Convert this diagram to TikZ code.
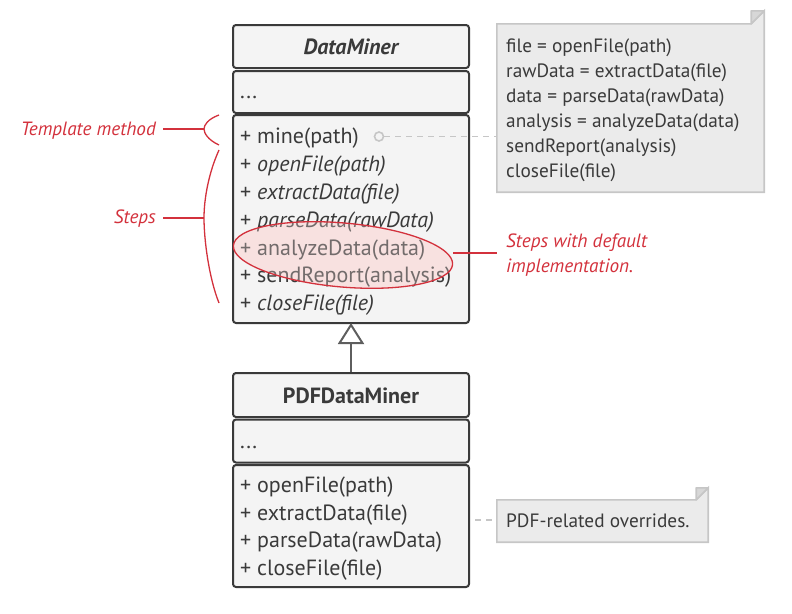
\documentclass[tikz,border=0pt]{standalone}
\usepackage{fontspec}
\setmainfont{PT Sans}
\usetikzlibrary{arrows.meta}
\definecolor{ink}{HTML}{3A3A3A}
\definecolor{arrowgray}{HTML}{5E5E5E}
\definecolor{boxfill}{HTML}{F4F4F4}
\definecolor{notefill}{HTML}{EBEBEB}
\definecolor{noteline}{HTML}{C6C6C6}
\definecolor{accent}{HTML}{D3313C}
\definecolor{blush}{HTML}{F8E1E0}
\tikzset{
  cls/.style={draw=ink, line width=2pt, fill=boxfill, rounded corners=3pt,
    minimum width=236pt, inner sep=0pt},
  mtext/.style={anchor=base west, inner sep=0pt, text=ink, font=\fontsize{22}{26}\selectfont},
  ntext/.style={anchor=base west, inner sep=0pt, text=ink, font=\fontsize{19.3}{23}\selectfont},
  rtext/.style={inner sep=0pt, text=accent, font=\fontsize{19.2}{25}\selectfont\itshape},
  redline/.style={draw=accent, line width=1.3pt},
  dashlink/.style={draw=noteline, line width=1.6pt, dash pattern=on 6pt off 5pt},
  hlshape/.style={rotate=-5},
}
\begin{document}
\begin{tikzpicture}[x=1pt, y=-1pt]
\useasboundingbox (0,0) rectangle (792,613);

% ---- DataMiner class ----
\node[cls, minimum height=43pt] (dmhead) at (351,46.5) {};
\node[cls, minimum height=42pt] (dmattr) at (351,92) {};
\node[cls, minimum height=208pt] (dmmeth) at (351,219) {};

% highlight behind the default steps
\coordinate (hl) at (343,255);
\fill[blush] (hl) ellipse [x radius=110pt, y radius=32pt, hlshape];

\node[anchor=base, inner sep=0pt, text=ink, font=\fontsize{22}{26}\selectfont\bfseries\itshape] (dmname) at (351,54) {DataMiner};
\node[mtext] (dmdots) at (240,98) {...};
\node[mtext] (m1) at (240,143) {+ mine(path)};
\node[mtext] (m2) at (240,171) {+ \textit{openFile(path)}};
\node[mtext] (m3) at (240,199) {+ \textit{extractData(file)}};
\node[mtext] (m4) at (240,227) {+ \textit{parseData(rawData)}};
\node[mtext] (m5) at (240,255) {+ analyzeData(data)};
\node[mtext] (m6) at (240,282.5) {+ sendReport(analysis)};
\node[mtext] (m7) at (240,310) {+ \textit{closeFile(file)}};

% outline of the highlight, over the text
\draw[redline, fill=blush, fill opacity=0.3] (hl) ellipse [x radius=110pt, y radius=32pt, hlshape];

% ---- PDFDataMiner class ----
\node[cls, minimum height=44pt] (pdhead) at (351,395) {};
\node[cls, minimum height=43pt] (pdattr) at (351,441) {};
\node[cls, minimum height=122pt] (pdmeth) at (351,526) {};
\node[anchor=base, inner sep=0pt, text=ink, font=\fontsize{22}{26}\selectfont\bfseries] (pdname) at (351,403.5) {PDFDataMiner};
\node[mtext] (pddots) at (240,448) {...};
\node[mtext] (p1) at (240,492) {+ openFile(path)};
\node[mtext] (p2) at (240,520) {+ extractData(file)};
\node[mtext] (p3) at (240,547.5) {+ parseData(rawData)};
\node[mtext] (p4) at (240,575) {+ closeFile(file)};

% inheritance arrow
\draw[draw=arrowgray, line width=2pt, -{Triangle[open, length=21pt, width=26pt, fill=white]}]
  (pdhead.north) -- ([yshift=1pt]dmmeth.south);

% ---- note: body of the template method ----
\node[inner sep=0pt, minimum width=267pt, minimum height=168pt] (note1) at (630.5,108) {};
\filldraw[fill=notefill, draw=noteline, line width=1.6pt]
  (note1.north west) -- ([xshift=-13pt]note1.north east) -- ([yshift=13pt]note1.north east)
  -- (note1.south east) -- (note1.south west) -- cycle;
\filldraw[fill=noteline!70!white, draw=noteline, line width=1.6pt, line join=round]
  ([xshift=-13pt]note1.north east) -- ([xshift=-13pt,yshift=13pt]note1.north east)
  -- ([yshift=13pt]note1.north east) -- cycle;
\node[ntext] (n1) at (506,52.5) {file = openFile(path)};
\node[ntext] (n2) at (506,77.5) {rawData = extractData(file)};
\node[ntext] (n3) at (506,102.5) {data = parseData(rawData)};
\node[ntext] (n4) at (506,127.5) {analysis = analyzeData(data)};
\node[ntext] (n5) at (506,152.5) {sendReport(analysis)};
\node[ntext] (n6) at (506,177) {closeFile(file)};

% link from mine() to its note
\node[circle, draw=noteline, line width=1.6pt, fill=boxfill, minimum size=9pt, inner sep=0pt] (dot) at (379,136.5) {};
\draw[dashlink] (dot.east) -- (dot.east -| note1.west);

% ---- note: overrides ----
\node[inner sep=0pt, minimum width=211pt, minimum height=42pt] (note2) at (602.5,521) {};
\filldraw[fill=notefill, draw=noteline, line width=1.6pt]
  (note2.north west) -- ([xshift=-12pt]note2.north east) -- ([yshift=12pt]note2.north east)
  -- (note2.south east) -- (note2.south west) -- cycle;
\filldraw[fill=noteline!70!white, draw=noteline, line width=1.6pt, line join=round]
  ([xshift=-12pt]note2.north east) -- ([xshift=-12pt,yshift=12pt]note2.north east)
  -- ([yshift=12pt]note2.north east) -- cycle;
\node[ntext] (o1) at (506,527.5) {PDF-related overrides.};
\coordinate (o2start) at (475,520);
\draw[dashlink] (o2start) -- (o2start -| note2.west);

% ---- label for the default steps ----
\coordinate (hlr) at (453,253);
\draw[redline] (hlr) -- (497,253);
\node[rtext, anchor=base west] (def1) at (506,247.5) {Steps with default};
\node[rtext, anchor=base west] (def2) at (506,272.5) {implementation.};

% ---- template method / steps brackets ----
\node[rtext, anchor=base east] (tm) at (156,135) {Template method};
\coordinate (tmb) at (204,129);
\draw[redline] (tm.east |- tmb) ++(7,0) -- (tmb);
\draw[redline] (219,115) .. controls (208,119) and (204,125) .. (tmb)
  .. controls (204,133) and (208,140) .. (219,145);

\node[rtext, anchor=base east] (st) at (156,223.5) {Steps};
\coordinate (stb) at (204,218);
\draw[redline] (st.east |- stb) ++(7,0) -- (stb);
\draw[redline] (219,150) .. controls (209,172) and (204,198) .. (stb)
  .. controls (204,240) and (209,278) .. (219,303);
\end{tikzpicture}
\end{document}
